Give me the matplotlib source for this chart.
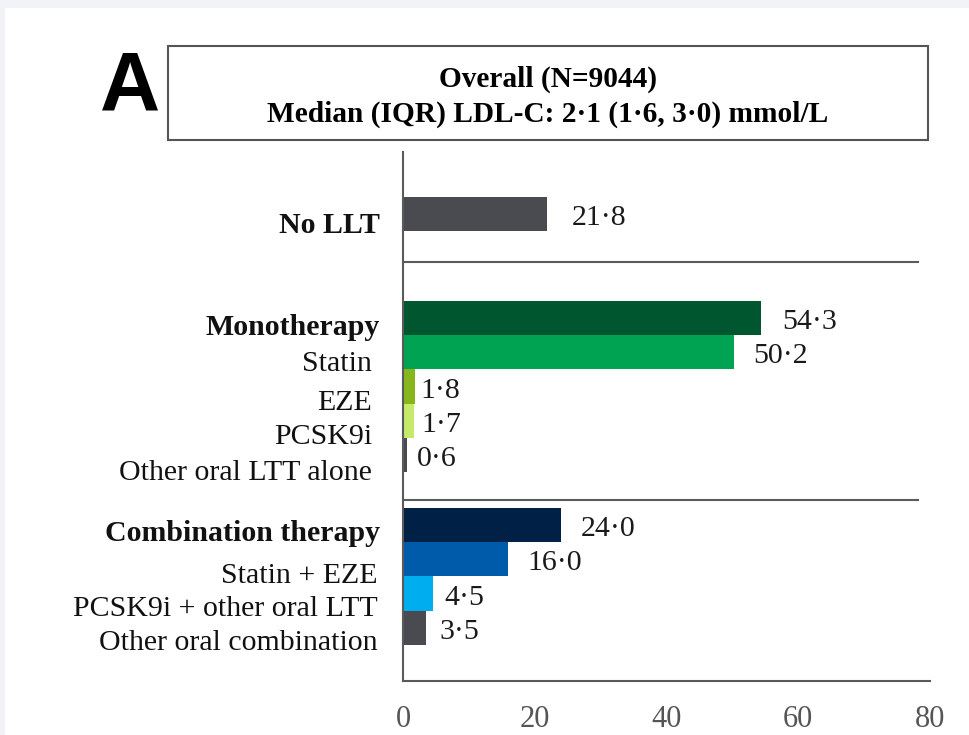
import matplotlib
matplotlib.use("Agg")
import matplotlib.pyplot as plt
from matplotlib.patches import Rectangle

# data
categories = ["No LLT", "Monotherapy", "Statin", "EZE", "PCSK9i",
              "Other oral LTT alone", "Combination therapy", "Statin + EZE",
              "PCSK9i + other oral LTT", "Other oral combination"]
values = [21.8, 54.3, 50.2, 1.8, 1.7, 0.6, 24.0, 16.0, 4.5, 3.5]
value_labels = ["21·8", "54·3", "50·2", "1·8", "1·7", "0·6",
                "24·0", "16·0", "4·5", "3·5"]
is_group = [True, True, False, False, False, False, True, False, False, False]
colors = ["#4a4b50", "#00562e", "#00a352", "#86b51c", "#c5ea6a", "#4a4b50",
          "#002045", "#005baa", "#00aeef", "#4a4b50"]
xticks = [0, 20, 40, 60, 80]
title_lines = ["Overall (N=9044)", "Median (IQR) LDL-C: 2·1 (1·6, 3·0) mmol/L"]

# layout (rows from top)
bar_pos = [0, 3.03, 4.03, 5.03, 6.03, 7.03, 9.07, 10.07, 11.07, 12.07]
label_pos = [0.33, 3.32, 4.38, 5.5, 6.5, 7.55, 9.32, 10.55, 11.52, 12.5]
label_x = [-3.5, -3.5, -4.7, -4.7, -4.7, -4.7, -3.5, -3.9, -3.9, -3.9]
val_off = [3.8, 3.2, 2.9, 0.8, 1.1, 1.5, 3.0, 2.9, 1.8, 2.1]
separators = [1.4, 8.34]

serif = "Liberation Serif"
fig = plt.figure(figsize=(9.69, 7.35), dpi=100)
fig.patch.set_facecolor("#f1f3f6")
fig.patches.append(Rectangle((5 / 969, 0), 1, 1 - 8 / 735, transform=fig.transFigure,
                             facecolor="white", edgecolor="none", zorder=-10))

ax = fig.add_axes([403 / 969, 1 - 681 / 735, 527 / 969, 529 / 735])
ax.set_facecolor("none")
ax.barh(bar_pos, values, height=1.0, color=colors, zorder=2)

for y, ly, lx, name, grp, v, lab, off in zip(bar_pos, label_pos, label_x, categories,
                                             is_group, values, value_labels, val_off):
    ax.text(lx, ly, name, ha="right", va="center",
            fontsize=21.5, fontfamily=serif, fontweight="bold" if grp else "normal",
            color="#111111", clip_on=False)
    ax.text(v + off, y + 0.12, lab, ha="left", va="center", fontsize=21.5,
            fontfamily=serif, color="#1a1a1a")

for s in separators:
    ax.plot([0, 78.2], [s, s], color="#5a5a5a", lw=1.5, zorder=1)

ax.set_xlim(0, 80)
ax.set_ylim(13.62, -1.81)
ax.set_xticks(xticks)
ax.set_xticklabels([str(t) for t in xticks], fontfamily=serif, fontsize=22, color="#555555")
ax.tick_params(axis="x", length=0, pad=17)
ax.set_yticks([])
for side in ["top", "right"]:
    ax.spines[side].set_visible(False)
for side in ["left", "bottom"]:
    ax.spines[side].set_color("#5a5a5a")
    ax.spines[side].set_linewidth(1.5)

# title box
fig.patches.append(Rectangle((168 / 969, 1 - 140 / 735), 760 / 969, 94 / 735,
                             transform=fig.transFigure, facecolor="white",
                             edgecolor="#555555", lw=1.5, zorder=1))
fig.text(548 / 969, 1 - 79 / 735, title_lines[0], ha="center", va="center",
         fontsize=21.2, fontweight="bold", fontfamily=serif, zorder=3)
fig.text(548 / 969, 1 - 114 / 735, title_lines[1], ha="center", va="center",
         fontsize=21.2, fontweight="bold", fontfamily=serif, zorder=3)
fig.text(130 / 969, 1 - 89 / 735, "A", ha="center", va="center",
         fontsize=60, fontweight="bold", fontfamily="Liberation Sans")

fig.savefig("out.png", dpi=100)
